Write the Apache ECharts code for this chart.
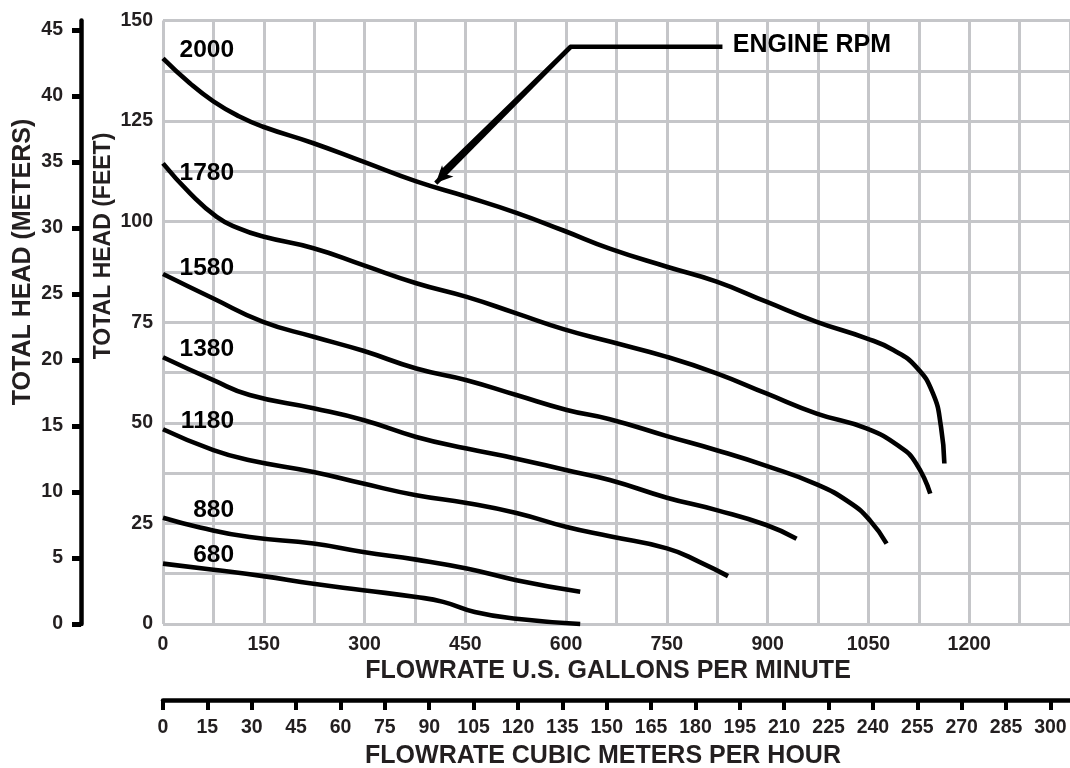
<!DOCTYPE html>
<html>
<head>
<meta charset="utf-8">
<script src="https://cdn.jsdelivr.net/npm/echarts@6/dist/echarts.min.js"></script>
<style>
html,body{margin:0;padding:0;background:#fff;}
#chart{width:1070px;height:768px;}
</style>
</head>
<body>
<div id="chart"></div>
<script>
// ---------- DATA ----------
const rpmNames = ['2000', '1780', '1580', '1380', '1180', '880', '680'];
// [flow (US gpm), total head (ft)]
const rpm2000 = [[0,140.6],[40,134.4],[75,129.9],[113,126.2],[149,123.6],[224,119.5],[298,114.9],[377,110.0],[452,106.2],[526,102.2],[596,97.8],[665,93.3],[750,88.8],[824,85.1],[898,80.1],[973,75.1],[1047,71.0],[1087,68.1],[1121,63.9],[1146,57.3],[1158,49.0],[1163,39.9]];
const rpm1780 = [[0,114.5],[40,107.1],[80,101.2],[112,98.4],[149,96.3],[224,93.4],[298,89.2],[377,84.7],[452,81.3],[526,77.2],[596,73.3],[665,70.2],[750,66.4],[824,62.3],[898,57.3],[973,52.3],[1047,48.6],[1097,44.0],[1121,39.9],[1142,32.4]];
const rpm1580 = [[0,87.0],[75,80.9],[149,75.1],[224,71.4],[298,67.9],[377,63.5],[452,60.6],[526,56.9],[601,53.2],[665,50.9],[750,46.7],[824,43.2],[898,39.3],[973,34.7],[1022,30.2],[1052,25.8],[1077,20.0]];
const rpm1380 = [[0,66.3],[75,60.6],[129,56.9],[224,53.6],[298,50.7],[377,46.5],[452,43.6],[526,41.1],[601,38.2],[665,35.8],[750,31.4],[824,28.3],[898,24.6],[943,21.2]];
const rpm1180 = [[0,48.4],[75,43.2],[129,40.7],[224,37.8],[298,34.9],[377,32.0],[452,30.1],[526,27.6],[601,24.1],[665,21.8],[750,18.8],[799,15.4],[841,11.9]];
const rpm880  = [[0,26.4],[55,24.0],[129,21.6],[224,20.0],[298,17.9],[377,16.0],[452,13.8],[526,10.9],[621,8.0]];
const rpm680  = [[0,15.0],[75,13.5],[149,11.9],[224,10.0],[298,8.4],[377,6.7],[417,5.5],[464,3.0],[526,1.3],[621,0.0]];
const curves = [rpm2000, rpm1780, rpm1580, rpm1380, rpm1180, rpm880, rpm680];

// tick labels
const gpmLabels = [0,150,300,450,600,750,900,1050,1200];
const feetLabels = [0,25,50,75,100,125,150];
const meterLabels = [0,5,10,15,20,25,30,35,40,45];
const m3hLabels = [0,15,30,45,60,75,90,105,120,135,150,165,180,195,210,225,240,255,270,285,300];

const annotationText = 'ENGINE RPM';

// ---------- LAYOUT / STYLE ----------
const GPM_MAX = 1350, FT_MAX = 150;
const FT_PER_M = 3.28084, GPM_PER_M3H = 4.402868;
const FONT = '"Liberation Sans", Arial, Helvetica, sans-serif';
const TXT = '#231f20';
const GRIDC = '#c5c6c9';
const plain = v => String(v);
// curve-label anchors (right edge, vertical centre) in data units
const labelAnchors = [[105.7,142.6],[105.7,112.1],[105.7,88.5],[105.7,68.3],[105.7,50.4],[105.7,28.3],[105.7,17.1]];

const chart = echarts.init(document.getElementById('chart'), null, {renderer:'canvas'});

const series = curves.map((c, i) => ({
  name: rpmNames[i], type: 'line', data: c, xAxisIndex: 0, yAxisIndex: 0,
  smooth: 0.5, symbol: 'none', clip: false,
  lineStyle: {color: '#000', width: 4.6, cap: 'butt'}, z: 5, silent: true
}));

series.push({
  name: 'rpmLabels', type: 'scatter', xAxisIndex: 0, yAxisIndex: 0, symbolSize: 0, silent: true, z: 6,
  itemStyle: {opacity: 1},
  data: labelAnchors.map((a, i) => ({value: a, name: rpmNames[i]})),
  label: {show: true, position: 'left', distance: 0, formatter: p => p.name,
    fontFamily: FONT, fontWeight: 'bold', fontSize: 24.5, color: '#000', opacity: 1, align: 'right', verticalAlign: 'middle'}
});

series.push({
  name: 'leader', type: 'line', xAxisIndex: 0, yAxisIndex: 0, symbol: 'none', clip: false, silent: true, z: 6,
  data: [[832.7,143.5],[607,143.5],[415,112.3]],
  lineStyle: {color: '#000', width: 4.5, join: 'miter'},
  markLine: {
    silent: true, symbol: ['none','arrow'], symbolSize: [12, 17], animation: false,
    lineStyle: {color: '#000', width: 4.5, type: 'solid'}, label: {show: false},
    data: [[{coord: [607,143.5]}, {coord: [406,109.6]}]]
  },
  markPoint: {
    silent: true, symbol: 'circle', symbolSize: 0, animation: false,
    data: [{coord: [848,144], value: annotationText}],
    label: {show: true, position: 'right', distance: 0, formatter: annotationText,
      fontFamily: FONT, fontWeight: 'bold', fontSize: 25, color: '#000', verticalAlign: 'middle'}
  }
});

const option = {
  animation: false,
  backgroundColor: '#fff',
  grid: {left: 163, top: 20.5, width: 907, height: 603.5, containLabel: false},
  xAxis: [
    {type: 'value', min: 0, max: GPM_MAX, interval: 75, position: 'bottom',
     axisLine: {show: false, onZero: false}, axisTick: {show: false},
     splitLine: {show: true, lineStyle: {color: GRIDC, width: 3}},
     axisLabel: {show: true, customValues: gpmLabels, formatter: plain, margin: 11, fontFamily: FONT, fontWeight: 'bold', fontSize: 19.5, color: TXT}},
    {type: 'value', min: 0, max: GPM_MAX / GPM_PER_M3H, position: 'bottom', offset: 76,
     axisLine: {show: true, onZero: false, lineStyle: {color: '#000', width: 4.5}},
     axisTick: {show: true, customValues: m3hLabels, length: 10, lineStyle: {color: '#000', width: 4}},
     splitLine: {show: false},
     axisLabel: {show: true, customValues: m3hLabels, formatter: plain, margin: 18, fontFamily: FONT, fontWeight: 'bold', fontSize: 19.5, color: TXT}}
  ],
  yAxis: [
    {type: 'value', min: 0, max: FT_MAX, interval: 12.5, position: 'left',
     axisLine: {show: false, onZero: false}, axisTick: {show: false},
     splitLine: {show: true, lineStyle: {color: GRIDC, width: 3}},
     axisLabel: {show: true, customValues: feetLabels, formatter: plain, margin: 10, fontFamily: FONT, fontWeight: 'bold', fontSize: 19.5, color: TXT}},
    {type: 'value', min: 0, max: FT_MAX / FT_PER_M, position: 'left', offset: 82,
     axisLine: {show: true, onZero: false, lineStyle: {color: '#000', width: 4.5}},
     axisTick: {show: true, customValues: meterLabels, length: 9, lineStyle: {color: '#000', width: 5}},
     splitLine: {show: false},
     axisLabel: {show: true, customValues: meterLabels, formatter: plain, margin: 18, fontFamily: FONT, fontWeight: 'bold', fontSize: 19.5, color: TXT}}
  ],
  graphic: [
    {type: 'text', x: 23, y: 262, rotation: Math.PI / 2, silent: true,
     style: {text: 'TOTAL HEAD (METERS)', fill: TXT, font: 'bold 25px ' + FONT, align: 'center', verticalAlign: 'middle'}},
    {type: 'text', x: 104, y: 246, rotation: Math.PI / 2, silent: true,
     style: {text: 'TOTAL HEAD (FEET)', fill: TXT, font: 'bold 23px ' + FONT, align: 'center', verticalAlign: 'middle'}},
    {type: 'text', x: 608, y: 671.5, silent: true,
     style: {text: 'FLOWRATE U.S. GALLONS PER MINUTE', fill: TXT, font: 'bold 25px ' + FONT, align: 'center', verticalAlign: 'middle'}},
    {type: 'text', x: 603, y: 756, silent: true,
     style: {text: 'FLOWRATE CUBIC METERS PER HOUR', fill: TXT, font: 'bold 25px ' + FONT, align: 'center', verticalAlign: 'middle'}}
  ],
  series: series
};
chart.setOption(option);
</script>
</body>
</html>
